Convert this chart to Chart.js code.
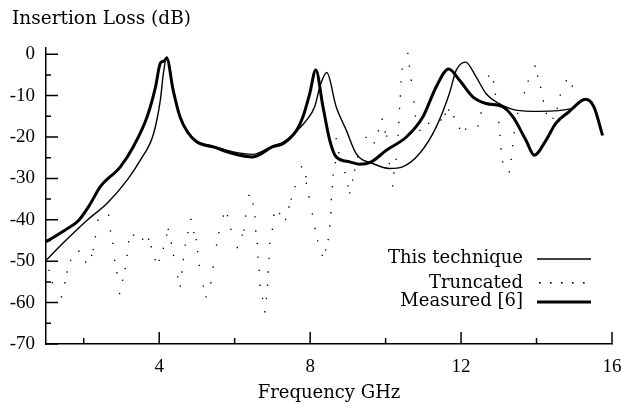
<!DOCTYPE html>
<html>
<head>
<meta charset="utf-8">
<script src="https://cdn.jsdelivr.net/npm/chart.js@4/dist/chart.umd.min.js"></script>
<style>
html, body { margin: 0; padding: 0; background: #fff; }
#wrap { width: 621px; height: 407px; }
</style>
</head>
<body>
<div id="wrap"><canvas id="chart"></canvas></div>
<script>
'use strict';

//curve values (frequency GHz, insertion loss dB)
const techFreq = [1.0, 1.5, 2.09, 2.62, 3.15, 3.5, 3.85, 4.03, 4.11, 4.2, 4.37, 4.55, 4.75, 5.0, 5.43, 5.96, 6.48,
	7.0, 7.3, 7.64, 7.9, 8.12, 8.27, 8.44, 8.69, 8.96, 9.22, 9.66, 10.1, 10.45, 10.9, 11.34, 11.69, 11.87, 12.12,
	12.4, 12.66, 13.0, 13.45, 14.07, 14.95, 15.3, 15.52, 15.75];
const techLoss = [-49.8, -45.2, -40.1, -36, -30.4, -25.6, -19.2, -11.1, -4.7, -0.6, -8.5, -15, -18.6, -21, -22.2,
	-23.6, -24.2, -22.2, -21.2, -18.6, -16, -12.7, -7.5, -4.4, -12.7, -18.4, -24, -26.4, -27.6, -27.2, -24, -17.6,
	-9.5, -3.9, -1.9, -5.5, -9.5, -11.9, -13.5, -13.8, -13.1, -10.9, -12.7, -19.6];

const measFreq = [1.0, 1.5, 1.87, 2.15, 2.44, 2.97, 3.31, 3.68, 3.9, 4.03, 4.12, 4.2, 4.37, 4.55, 4.75, 5.0, 5.43,
	5.96, 6.48, 7.0, 7.28, 7.64, 7.81, 7.99, 8.15, 8.34, 8.52, 8.69, 9.05, 9.31, 9.62, 10.02, 10.55, 10.99, 11.34,
	11.67, 11.96, 12.31, 12.66, 13.1, 13.37, 13.72, 13.94, 14.25, 14.51, 14.86, 15.3, 15.52, 15.75];
const measLoss = [-45.3, -42.5, -40.1, -36.5, -32, -27.2, -22.4, -15.1, -8, -2.2, -1.7, -1.0, -8.7, -15.1, -18.8,
	-21.2, -22.4, -24, -24.8, -22.4, -21.6, -18.4, -15.1, -9.5, -3.8, -12.7, -20.8, -24.8, -26, -26.6, -26, -23.2,
	-20, -15.1, -7.9, -3.6, -6.3, -10.3, -11.9, -12.7, -15.1, -20.8, -24.4, -20.8, -16.7, -13.9, -10.9, -12.7, -19.6];

const truncFreq = [1.08, 1.17, 1.41, 1.5, 1.56, 1.65, 1.87, 2.05, 2.21, 2.25, 2.31, 2.38, 2.66, 2.71, 2.77, 2.82,
	2.88, 2.95, 3.03, 3.1, 3.15, 3.19, 3.32, 3.56, 3.72, 3.79, 3.89, 4.0, 4.11, 4.2, 4.24, 4.32, 4.38, 4.49, 4.56,
	4.6, 4.64, 4.69, 4.76, 4.84, 4.92, 4.98, 5.02, 5.06, 5.17, 5.24, 5.37, 5.43, 5.52, 5.58, 5.7, 5.81, 5.9, 6.07,
	6.2, 6.25, 6.29, 6.38, 6.49, 6.54, 6.56, 6.6, 6.62, 6.65, 6.67, 6.74, 6.8, 6.84, 6.87, 6.89, 6.91, 6.93, 7.0,
	7.04, 7.19, 7.35, 7.44, 7.5, 7.6, 7.77, 7.89, 7.9, 7.97, 8.06, 8.13, 8.2, 8.32, 8.41, 8.48, 8.52, 8.55, 8.56,
	8.59, 8.61, 8.67, 8.69, 8.76, 8.92, 9.0, 9.05, 9.13, 9.18, 9.26, 9.48, 9.7, 9.81, 9.91, 9.99, 10.03, 10.1,
	10.19, 10.22, 10.28, 10.33, 10.35, 10.37, 10.39, 10.41, 10.44, 10.59, 10.63, 10.68, 10.75, 10.79, 10.91, 11.14,
	11.47, 11.58, 11.67, 11.81, 11.96, 12.12, 12.45, 12.53, 12.73, 12.86, 12.91, 13.0, 13.03, 13.06, 13.1, 13.28,
	13.33, 13.37, 13.41, 13.5, 13.68, 13.78, 13.96, 14.03, 14.11, 14.18, 14.26, 14.44, 14.55, 14.63, 14.79, 14.95];
const truncLoss = [-52.2, -55.2, -58.6, -55.2, -52.6, -49.8, -47.6, -50.2, -48.6, -47.2, -44.1, -40.1, -38.9, -42.7,
	-45.7, -49.8, -52.8, -57.8, -54.6, -51.8, -48.6, -45.3, -43.7, -44.7, -44.7, -46.5, -49.6, -49.8, -46.9, -43.7,
	-42.3, -45.6, -48.6, -53.8, -56, -52.6, -49.6, -46.1, -43.1, -39.9, -43.1, -44.8, -47.7, -51, -56, -58.6, -55.2,
	-51.4, -46.1, -43.1, -39.1, -39, -42.3, -46.7, -43.7, -42.5, -39.1, -34.1, -36.2, -39.3, -42.7, -45.7, -49,
	-52.2, -55.8, -59, -62.2, -59, -55.8, -52.6, -49.3, -45.7, -42.3, -38.9, -38.5, -39.9, -36.9, -35, -32, -27.2,
	-29.6, -31.2, -34.5, -38.6, -42.1, -45.1, -48.6, -47.3, -44.8, -41.5, -38.3, -35.1, -32, -29.2, -26.2, -20.4,
	-23.8, -28.6, -31.8, -33.5, -30.4, -28, -24.8, -20.1, -21.4, -18.5, -15.7, -18.8, -19.8, -26.4, -31.8, -28.7,
	-25.4, -19.6, -16.5, -13.1, -10.1, -6.7, -3.6, 0.2, -2.9, -6.3, -11.5, -14.9, -18.4, -16.7, -15.9, -14.5, -13.5,
	-15.1, -17.9, -18.1, -17.3, -14.2, -5.3, -6.7, -9.7, -16.5, -19.6, -22.9, -26, -28.4, -25.4, -22.1, -19, -14.3,
	-9.3, -6.5, -2.9, -5.3, -8, -11.3, -14.3, -15.5, -13.1, -9.9, -6.4, -7.7];

const seriesNames = ['This technique', 'Truncated', 'Measured [6]'];

//axis ticks
const xLabelTicks = [4, 8, 12, 16];
const xMinorTicks = [2, 6, 10, 14];
const yLabelTicks = [-70, -60, -50, -40, -30, -20, -10, 0];
const yMinorTicks = [-65, -55, -45, -35, -25, -15, -5];

const INK = '#000';
const TEXT_FONT = "'DejaVu Serif', 'Liberation Serif', serif";	//wide serif for words
const DIGIT_FONT = "'Liberation Serif', serif";					//narrow digits for tick numbers

function toPoints(xs, ys) {
	return xs.map((x, idx) => ({x: x, y: ys[idx]}));
}

const plugins = [
	{
		id: 'backgroundColour',
		beforeDraw: (chart) => {
			const {ctx} = chart;
			ctx.save();
			ctx.fillStyle = '#fff';
			ctx.fillRect(0, 0, chart.width, chart.height);
			ctx.restore();
		}
	},
	{
		//tick marks point into the plot, like the original figure
		id: 'inwardTicks',
		afterDraw: (chart) => {
			const {ctx, chartArea} = chart;
			const xs = chart.scales.x, ys = chart.scales.y;
			ctx.save();
			ctx.strokeStyle = INK;
			ctx.lineWidth = 1.5;
			ctx.beginPath();
			for (const v of xLabelTicks) {
				const px = xs.getPixelForValue(v);
				ctx.moveTo(px, chartArea.bottom);
				ctx.lineTo(px, chartArea.bottom - 12);
			}
			for (const v of xMinorTicks) {
				const px = xs.getPixelForValue(v);
				ctx.moveTo(px, chartArea.bottom);
				ctx.lineTo(px, chartArea.bottom - 6);
			}
			for (const v of yLabelTicks) {
				const py = ys.getPixelForValue(v);
				ctx.moveTo(chartArea.left, py);
				ctx.lineTo(chartArea.left + 12, py);
			}
			for (const v of yMinorTicks) {
				const py = ys.getPixelForValue(v);
				ctx.moveTo(chartArea.left, py);
				ctx.lineTo(chartArea.left + 5, py);
			}
			ctx.stroke();
			ctx.restore();
		}
	},
	{
		//y axis caption above the plot and the legend in the lower right corner
		id: 'captions',
		afterDraw: (chart) => {
			const {ctx} = chart;
			ctx.save();
			ctx.fillStyle = INK;
			ctx.font = '18.5px ' + TEXT_FONT;
			ctx.textBaseline = 'alphabetic';
			ctx.textAlign = 'left';
			ctx.fillText('Insertion Loss (dB)', 12, 24);

			const textRight = 523, sampleLeft = 537, sampleRight = 591;
			const baselines = [263, 288, 306], sampleYs = [259, 282, 302];
			ctx.font = '18px ' + TEXT_FONT;
			ctx.textAlign = 'right';
			seriesNames.forEach((name, idx) => ctx.fillText(name, textRight, baselines[idx]));

			ctx.strokeStyle = INK;
			ctx.lineWidth = 1.4;
			ctx.beginPath();
			ctx.moveTo(sampleLeft, sampleYs[0]);
			ctx.lineTo(sampleRight, sampleYs[0]);
			ctx.stroke();

			for (let px = sampleLeft + 2; px <= sampleRight; px += 11) {
				ctx.fillRect(px, sampleYs[1], 1.6, 1.6);
			}

			ctx.lineWidth = 3;
			ctx.beginPath();
			ctx.moveTo(sampleLeft, sampleYs[2]);
			ctx.lineTo(sampleRight, sampleYs[2]);
			ctx.stroke();
			ctx.restore();
		}
	}
];

Chart.defaults.font.family = TEXT_FONT;
Chart.defaults.font.size = 18;
Chart.defaults.color = INK;

new Chart(document.getElementById('chart'), {
	type: 'scatter',
	data: {
		datasets: [
			{
				label: seriesNames[0],
				data: toPoints(techFreq, techLoss),
				showLine: true,
				borderColor: INK,
				borderWidth: 1.4,
				pointRadius: 0,
				cubicInterpolationMode: 'monotone'
			},
			{
				label: seriesNames[1],
				data: toPoints(truncFreq, truncLoss),
				showLine: false,
				backgroundColor: INK,
				borderWidth: 0,
				pointRadius: 0.95,
				pointStyle: 'rect'
			},
			{
				label: seriesNames[2],
				data: toPoints(measFreq, measLoss),
				showLine: true,
				borderColor: INK,
				borderWidth: 3,
				pointRadius: 0,
				cubicInterpolationMode: 'monotone'
			}
		]
	},
	options: {
		animation: false,
		responsive: true,
		maintainAspectRatio: false,
		layout: {
			padding: {top: 48, right: 9, left: 0, bottom: 0}
		},
		plugins: {
			legend: {display: false},
			tooltip: {enabled: false}
		},
		scales: {
			x: {
				type: 'linear',
				min: 1,
				max: 16,
				afterBuildTicks: (scale) => {
					scale.ticks = xLabelTicks.map(v => ({value: v}));
				},
				afterFit: (scale) => {
					scale.height = 63;
					scale.paddingLeft = 0;						//keep plot edge fixed, let "16" hang over
					scale.paddingRight = 0;
				},
				grid: {display: false, drawTicks: false},
				border: {display: true, color: INK, width: 1.5},
				ticks: {padding: 12, maxRotation: 0, autoSkip: false, font: {family: DIGIT_FONT, size: 19}},
				title: {
					display: true,
					text: 'Frequency GHz',
					padding: {top: 0, bottom: 3}
				}
			},
			y: {
				type: 'linear',
				min: -70,
				max: 1.5,
				afterBuildTicks: (scale) => {
					scale.ticks = yLabelTicks.map(v => ({value: v}));
				},
				afterFit: (scale) => {
					scale.width = 46;
				},
				grid: {display: false, drawTicks: false},
				border: {display: true, color: INK, width: 1.5},
				ticks: {padding: 11, autoSkip: false, font: {family: DIGIT_FONT, size: 19}}
			}
		}
	},
	plugins: plugins
});
</script>
</body>
</html>
